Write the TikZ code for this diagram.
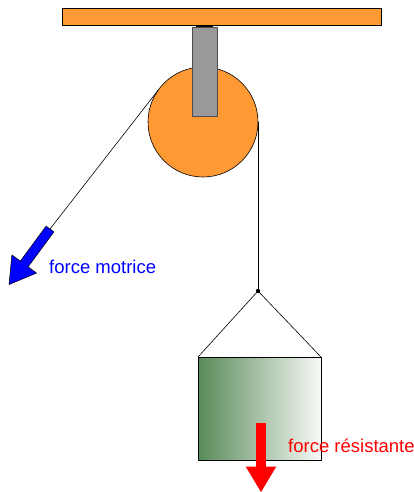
\documentclass[tikz,border=0pt]{standalone}
\usepackage{fontspec}
\setmainfont{Liberation Sans}
\usetikzlibrary{shapes.arrows}
\definecolor{bois}{RGB}{255,153,51}
\definecolor{acier}{RGB}{153,153,153}
\definecolor{vert}{RGB}{88,138,88}
\tikzset{
  corde/.style={line width=0.6pt},
  force/.style={single arrow, inner sep=4.6pt, outer sep=0pt, minimum height=69pt,
    single arrow head extend=10.5pt, single arrow tip angle=62, anchor=tail},
  legende/.style={anchor=base west, inner sep=0pt, font=\fontsize{18.5}{22}\selectfont}
}
\begin{document}
\begin{tikzpicture}[x=1pt, y=-1pt, line join=round, line cap=round]
  \def\cx{203} \def\cy{122} \def\r{55} % centre et rayon de la poulie
  \def\kx{258} \def\ky{291} % noeud de la corde
  \useasboundingbox (0,0) rectangle (414,492);
  % plafond
  \draw[fill=bois, line width=0.8pt] (62,8) rectangle (381,25);
  \fill (196,25) rectangle (213,27.5);
  % poulie
  \node[circle, draw, fill=bois, minimum size=2*\r pt, inner sep=0pt, outer sep=0pt, line width=0.6pt] (poulie) at (\cx,\cy) {};
  % chape
  \draw[fill=acier, draw=black!70, line width=0.8pt] (192,27) rectangle (217,116);
  % charge
  \node[draw, line width=0.6pt, minimum width=123pt, minimum height=103pt, inner sep=0pt, outer sep=0pt,
    left color=vert, right color=vert!4!white] (charge) at (259.5,408.5) {};
  \coordinate (noeud) at (\kx,\ky);
  % forces
  \node[force, draw=black, line width=0.5pt, fill=blue, rotate=233.6] (motrice) at (50,229) {};
  \node[force, fill=red, rotate=270] (resistante) at (261,423) {};
  % corde
  \draw[corde] (motrice.tail) -- (poulie.144);
  \draw[corde] (poulie.east) -- (noeud);
  \draw[corde] (charge.north west) -- (noeud) -- (charge.north east);
  \fill (noeud) circle (2.2pt);
  % legendes
  \node[legende, text=blue] (tmotrice) at (49,273) {force motrice};
  \node[legende, text=red] (tresistante) at (288,452) {force résistante};
\end{tikzpicture}
\end{document}
